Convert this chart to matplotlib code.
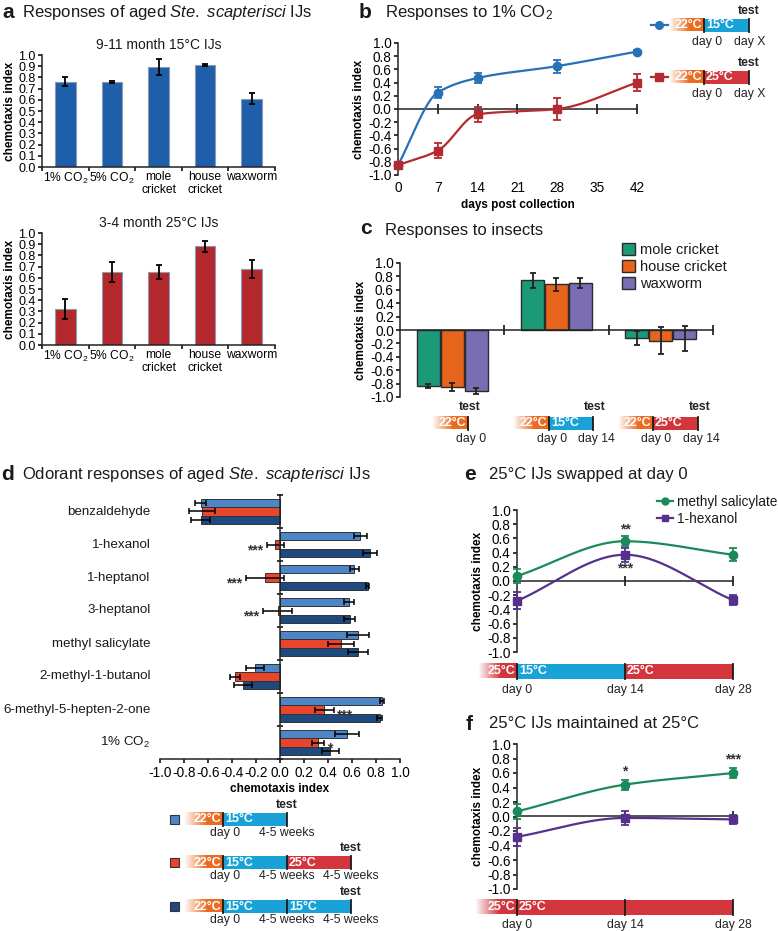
import numpy as np
import matplotlib
matplotlib.use('Agg')
import matplotlib.pyplot as plt
from matplotlib.patches import Rectangle
from matplotlib.colors import to_rgb
from matplotlib.lines import Line2D

plt.rcParams['font.family'] = ['Liberation Sans', 'DejaVu Sans']
plt.rcParams['mathtext.fontset'] = 'custom'
plt.rcParams['mathtext.rm'] = 'Liberation Sans'
plt.rcParams['mathtext.it'] = 'Liberation Sans:italic'
plt.rcParams['axes.unicode_minus'] = False
plt.rcParams['axes.linewidth'] = 1.1
plt.rcParams['axes.edgecolor'] = '#222222'
plt.rcParams['text.color'] = '#1a1a1a'

# ---- data ----
# a: aged IJs
a_labels = ['1% CO$_2$', '5% CO$_2$', 'mole\ncricket', 'house\ncricket', 'waxworm']
a15_vals = [0.76, 0.76, 0.89, 0.91, 0.61]
a15_err = [0.04, 0.01, 0.07, 0.01, 0.05]
a25_vals = [0.32, 0.65, 0.65, 0.88, 0.68]
a25_err = [0.09, 0.09, 0.06, 0.05, 0.08]

# b: responses to 1% CO2 over time
b_days = [0, 7, 14, 28, 42]
b15_vals = [-0.85, 0.25, 0.47, 0.65, 0.87]
b15_err = [0.03, 0.08, 0.08, 0.10, 0.02]
b25_vals = [-0.85, -0.63, -0.08, 0.00, 0.40]
b25_err = [0.03, 0.11, 0.11, 0.16, 0.13]

# c: responses to insects (rows = insect, cols = condition)
c_series = ['mole cricket', 'house cricket', 'waxworm']
c_vals = [[-0.83, 0.74, -0.12], [-0.85, 0.68, -0.16], [-0.91, 0.70, -0.13]]
c_err = [[0.03, 0.11, 0.10], [0.06, 0.10, 0.20], [0.04, 0.08, 0.19]]

# d: odorant responses
d_odorants = ['benzaldehyde', '1-hexanol', '1-heptanol', '3-heptanol', 'methyl salicylate',
              '2-methyl-1-butanol', '6-methyl-5-hepten-2-one', '1% CO$_2$']
d_15 = [-0.66, 0.67, 0.62, 0.575, 0.65, -0.21, 0.85, 0.56]
d_15err = [0.045, 0.055, 0.04, 0.045, 0.09, 0.075, 0.02, 0.10]
d_swap = [-0.65, -0.04, -0.125, -0.02, 0.51, -0.375, 0.37, 0.32]
d_swaperr = [0.11, 0.07, 0.16, 0.12, 0.11, 0.045, 0.08, 0.05]
d_15x2 = [-0.66, 0.75, 0.73, 0.58, 0.65, -0.31, 0.83, 0.42]
d_15x2err = [0.08, 0.055, 0.015, 0.045, 0.08, 0.075, 0.02, 0.07]
d_stars = ['', '***', '***', '***', '', '', '***', '*']

# e / f: methyl salicylate and 1-hexanol
ef_days = [0, 14, 28]
e_ms = [0.07, 0.56, 0.37]
e_ms_err = [0.10, 0.07, 0.09]
e_hx = [-0.28, 0.37, -0.27]
e_hx_err = [0.12, 0.10, 0.07]
f_ms = [0.07, 0.44, 0.60]
f_ms_err = [0.10, 0.07, 0.07]
f_hx = [-0.28, -0.02, -0.04]
f_hx_err = [0.12, 0.10, 0.06]

# colours
ORANGE, CYAN, TRED = '#ec6b1f', '#18a2d8', '#d2353b'
W, H = 778, 931

fig = plt.figure(figsize=(W / 100, H / 100), dpi=100)

ov = fig.add_axes([0, 0, 1, 1])
ov.axis('off')
ov.patch.set_alpha(0)


def px_axes(x0, y0, x1, y1):
    return fig.add_axes([x0 / W, 1 - y1 / H, (x1 - x0) / W, (y1 - y0) / H])


def pchip(x, y, n=300):
    # monotone cubic, used to draw the smoothed connecting lines
    x = np.asarray(x, float)
    y = np.asarray(y, float)
    h = np.diff(x)
    d = np.diff(y) / h
    m = np.zeros_like(y)
    for k in range(1, len(x) - 1):
        if d[k - 1] * d[k] > 0:
            w1 = 2 * h[k] + h[k - 1]
            w2 = h[k] + 2 * h[k - 1]
            m[k] = (w1 + w2) / (w1 / d[k - 1] + w2 / d[k])
    m[0] = d[0]
    m[-1] = d[-1]
    xs = np.linspace(x[0], x[-1], n)
    i = np.clip(np.searchsorted(x, xs) - 1, 0, len(x) - 2)
    t = (xs - x[i]) / h[i]
    ys = ((2 * t**3 - 3 * t**2 + 1) * y[i] + (t**3 - 2 * t**2 + t) * h[i] * m[i]
          + (-2 * t**3 + 3 * t**2) * y[i + 1] + (t**3 - t**2) * h[i] * m[i + 1])
    return xs, ys


def ci_yticks(ax, lo, hi, n):
    t = np.round(np.linspace(lo, hi, n), 1)
    ax.set_yticks(t)
    ax.set_yticklabels([f'{v + 0.0:.1f}' for v in t])
    ax.set_ylim(lo, hi)


def base_style(ax, fs=9.8):
    ax.spines['top'].set_visible(False)
    ax.spines['right'].set_visible(False)
    ax.tick_params(labelsize=fs, length=3, width=1.1, pad=1.5)
    ax.set_ylabel('chemotaxis index', fontweight='bold', fontsize=8.5, labelpad=2)


def timeline(edges, y, colors, temps, h=13, fs=9):
    x0, x1 = edges[0], edges[1]
    grad = np.zeros((1, 64, 4))
    grad[..., :3] = to_rgb(colors[0])
    grad[0, :, 3] = np.clip(np.linspace(0, 1.7, 64), 0, 1)
    ov.imshow(grad, extent=(x0, x1, y + h / 2, y - h / 2), aspect='auto', interpolation='bilinear')
    for a, b, c in zip(edges[1:-1], edges[2:], colors[1:]):
        ov.add_patch(Rectangle((a, y - h / 2), b - a, h, color=c, lw=0))
    for e in edges[1:]:
        ov.plot([e, e], [y - h / 2, y + h / 2], color='#1a1a1a', lw=1.3)
    for k, tx in enumerate(temps):
        if k == 0:
            ov.text(edges[1] - 2, y + 0.5, tx, color='white', fontsize=fs, fontweight='bold',
                    ha='right', va='center')
        else:
            ov.text(edges[k] + 2, y + 0.5, tx, color='white', fontsize=fs, fontweight='bold',
                    ha='left', va='center')


def label(x, y, s, **kw):
    ov.text(x, y, s, ha='center', va='center', fontsize=8.8, color='#222222', **kw)


def test_label(x, y):
    ov.text(x, y, 'test', ha='center', va='center', fontsize=8.8, fontweight='bold', color='#222222')


# ---- panel titles ----
ov.text(2, 12, 'a', fontsize=15, fontweight='bold', va='center')
ov.text(22, 12, r'Responses of aged $\mathit{Ste.\ scapterisci}$ IJs', fontsize=12, va='center')
ov.text(359, 12, 'b', fontsize=15, fontweight='bold', va='center')
ov.text(385, 12, 'Responses to 1% CO$_2$', fontsize=12, va='center')
ov.text(360, 229, 'c', fontsize=15, fontweight='bold', va='center')
ov.text(385, 230, 'Responses to insects', fontsize=12, va='center')
ov.text(1, 475, 'd', fontsize=15, fontweight='bold', va='center')
ov.text(22, 475, r'Odorant responses of aged $\mathit{Ste.\ scapterisci}$ IJs', fontsize=12, va='center')
ov.text(464, 475, 'e', fontsize=15, fontweight='bold', va='center')
ov.text(489, 475, '25°C IJs swapped at day 0', fontsize=12, va='center')
ov.text(466, 724, 'f', fontsize=15, fontweight='bold', va='center')
ov.text(489, 724, '25°C IJs maintained at 25°C', fontsize=12, va='center')

# ---- panel a ----
for (y0, y1), vals, errs, col, ttl in [((55, 167), a15_vals, a15_err, '#1f5ea8', '9-11 month 15°C IJs'),
                                      ((233, 345), a25_vals, a25_err, '#b3282d', '3-4 month 25°C IJs')]:
    ax = px_axes(42, y0, 275, y1)
    ax.bar(range(5), vals, 0.44, yerr=errs, color=col, edgecolor='#8a9bb0', lw=0.8,
           error_kw=dict(ecolor='black', capsize=2.5, elinewidth=1.3, capthick=1.3))
    base_style(ax, fs=9.0)
    ci_yticks(ax, 0, 1.0, 11)
    ax.set_xlim(-0.5, 4.5)
    ax.set_xticks(np.arange(-0.5, 5, 1))
    ax.set_xticklabels([])
    ax.set_xticks(range(5), minor=True)
    ax.set_xticklabels(a_labels, minor=True, fontsize=8.7, linespacing=1.1)
    ax.tick_params(axis='x', which='minor', length=0, pad=3)
    ax.set_title(ttl, fontsize=10, pad=4)

# ---- panel b ----
ax = px_axes(398, 43, 637, 175)
for vals, errs, col, mk in [(b15_vals, b15_err, '#2671b8', 'o'), (b25_vals, b25_err, '#b52a30', 's')]:
    xs, ys = pchip(b_days, vals)
    ax.plot(xs, ys, color=col, lw=1.6, clip_on=False, zorder=3)
    ax.errorbar(b_days, vals, yerr=errs, fmt='none', ecolor=col, elinewidth=1.3, capsize=3,
                capthick=1.3, clip_on=False, zorder=3)
    ax.plot(b_days, vals, mk, color=col, ms=6, clip_on=False, zorder=4)
base_style(ax)
ci_yticks(ax, -1.0, 1.0, 11)
ax.set_xlim(0, 42)
ax.set_xticks(range(0, 43, 7))
ax.spines['bottom'].set_visible(False)
ax.tick_params(axis='x', length=0, pad=4)
ax.set_xlabel('days post collection', fontweight='bold', fontsize=8.5, labelpad=3)
sec = ax.secondary_xaxis(0.5)
sec.set_xticks(range(7, 43, 7))
sec.tick_params(direction='inout', length=7, width=1.1, labelbottom=False, labeltop=False)

# legend schematics for b
for y, col, c2, mk in [(25, '#2671b8', CYAN, 'o'), (77, '#b52a30', TRED, 's')]:
    ov.plot([651, 668], [y, y], color=col, lw=1.6)
    ov.plot([659], [y], mk, color=col, ms=5.5)
    timeline([669, 704, 749], y, [ORANGE, c2], ['22°C', '15°C' if c2 == CYAN else '25°C'])
    test_label(749, y - 14)
    label(707, y + 17, 'day 0')
    label(750, y + 17, 'day X')

# ---- panel c ----
ax = px_axes(400, 263, 713, 397)
c_cols = ['#1c9a78', '#e7641d', '#7a6db3']
for j in range(3):
    ax.bar(np.arange(3) + (j - 1) * 0.23, c_vals[j], 0.22, yerr=c_err[j], color=c_cols[j],
           edgecolor='#2b2b2b', lw=1, label=c_series[j],
           error_kw=dict(ecolor='#222222', capsize=2.5, elinewidth=1.3, capthick=1.3))
base_style(ax)
ci_yticks(ax, -1.0, 1.0, 11)
ax.set_xlim(-0.5, 2.5)
ax.spines['bottom'].set_position(('data', 0))
ax.set_xticks([0.5, 1.5, 2.5])
ax.set_xticklabels([])
ax.tick_params(axis='x', direction='inout', length=7)
ax.legend(loc='upper left', bbox_to_anchor=(622 / W, 1 - 243 / H), bbox_transform=fig.transFigure,
          frameon=False, fontsize=10.5, handlelength=0.9, handleheight=0.9, handletextpad=0.35,
          labelspacing=0.2, borderpad=0, borderaxespad=0)

timeline([432, 468], 423, [ORANGE], ['22°C'])
test_label(470, 407)
label(471, 439, 'day 0')
for edges, c2, t2 in [([513, 549, 593], CYAN, '15°C'), ([618, 653, 698], TRED, '25°C')]:
    timeline(edges, 423, [ORANGE, c2], ['22°C', t2])
    test_label(edges[2] + 2, 407)
    label(edges[1] + 3, 439, 'day 0')
    label(edges[2] + 3, 439, 'day 14')

# ---- panel d ----
ax = px_axes(160, 495, 400, 759)
d_cols = ['#4d86c6', '#e8452c', '#1f4a80']
ypos = np.arange(len(d_odorants)) + 0.5
for j, (vals, errs) in enumerate([(d_15, d_15err), (d_swap, d_swaperr), (d_15x2, d_15x2err)]):
    ax.barh(ypos + (j - 1) * 0.25, vals, 0.25, xerr=errs, color=d_cols[j], edgecolor='#333333', lw=0.7,
            error_kw=dict(ecolor='black', capsize=2, elinewidth=1.1, capthick=1.1))
ax.set_xlim(-1.0, 1.0)
ax.set_ylim(len(d_odorants), 0)
ax.spines['top'].set_visible(False)
ax.spines['right'].set_visible(False)
ax.spines['left'].set_position(('data', 0))
ax.set_yticks(range(len(d_odorants) + 1))
ax.set_yticklabels([])
ax.tick_params(axis='y', direction='inout', length=5, width=1.1)
xt = np.round(np.linspace(-1, 1, 11), 1)
ax.set_xticks(xt)
ax.set_xticklabels([f'{v + 0.0:.1f}' for v in xt])
ax.tick_params(axis='x', labelsize=9.8, length=3, width=1.1, pad=2)
ax.set_xlabel('chemotaxis index', fontweight='bold', fontsize=8.5, labelpad=2)
for i, name in enumerate(d_odorants):
    ax.text(-1.08, ypos[i], name, ha='right', va='center', fontsize=9.6, clip_on=False)
    s = d_stars[i]
    if s:
        v, e = d_swap[i], d_swaperr[i]
        if v < 0:
            ax.text(v - e - 0.03, ypos[i] + 0.17, s, ha='right', va='center', fontsize=10,
                    fontweight='bold', color='#333333')
        else:
            ax.text(v + e + 0.02, ypos[i] + 0.17, s, ha='left', va='center', fontsize=10,
                    fontweight='bold', color='#333333')

for y, col, cols, temps in [(819, d_cols[0], [ORANGE, CYAN], ['22°C', '15°C']),
                            (862, d_cols[1], [ORANGE, CYAN, TRED], ['22°C', '15°C', '25°C']),
                            (906, d_cols[2], [ORANGE, CYAN, CYAN], ['22°C', '15°C', '15°C'])]:
    ov.add_patch(Rectangle((170.5, y - 4.5), 9, 9, facecolor=col, edgecolor='#333333', lw=0.8))
    edges = [184, 223, 287, 351][:len(cols) + 1]
    timeline(edges, y, cols, temps)
    test_label(edges[-1], y - 14)
    label(225, y + 14, 'day 0')
    for e in edges[2:]:
        label(e, y + 14, '4-5 weeks')

# ---- panels e, f ----
ef_cols = ['#1b8a5a', '#55308d']
for (y0, y1), ms, ms_e, hx, hx_e, stars in [
        ((510, 652), e_ms, e_ms_err, e_hx, e_hx_err, [(14, 0.72, '**'), (14, 0.17, '***')]),
        ((744, 889), f_ms, f_ms_err, f_hx, f_hx_err, [(14, 0.62, '*'), (28, 0.78, '***')])]:
    ax = px_axes(517, y0, 733, y1)
    for vals, errs, col, mk in [(ms, ms_e, ef_cols[0], 'o'), (hx, hx_e, ef_cols[1], 's')]:
        xs, ys = pchip(ef_days, vals)
        ax.plot(xs, ys, color=col, lw=1.6, zorder=3)
        ax.errorbar(ef_days, vals, yerr=errs, fmt='none', ecolor=col, elinewidth=1.3, capsize=3,
                    capthick=1.3, clip_on=False, zorder=3)
        ax.plot(ef_days, vals, mk, color=col, ms=6, clip_on=False, zorder=4)
    base_style(ax)
    ci_yticks(ax, -1.0, 1.0, 11)
    ax.set_xlim(0, 28)
    ax.spines['bottom'].set_visible(False)
    ax.set_xticks([])
    sec = ax.secondary_xaxis(0.5)
    sec.set_xticks([14, 28])
    sec.tick_params(direction='inout', length=7, width=1.1, labelbottom=False, labeltop=False)
    for x, y, s in stars:
        ax.text(x, y, s, ha='center', va='center', fontsize=10, fontweight='bold', color='#333333')
    if y0 == 510:
        handles = [Line2D([], [], color=ef_cols[0], marker='o', ms=5, lw=1.6),
                   Line2D([], [], color=ef_cols[1], marker='s', ms=5, lw=1.6)]
        ax.legend(handles, ['methyl salicylate', '1-hexanol'], loc='upper left',
                  bbox_to_anchor=(657 / W, 1 - 495 / H), bbox_transform=fig.transFigure,
                  frameon=False, fontsize=9.8, handlelength=1.2, handletextpad=0.3,
                  labelspacing=0.2, borderpad=0, borderaxespad=0)

timeline([478, 517, 625, 733], 671, [TRED, CYAN, TRED], ['25°C', '15°C', '25°C'], h=15)
for x, s in [(517, 'day 0'), (625, 'day 14'), (733, 'day 28')]:
    label(x, 690, s)
timeline([475, 517, 625, 733], 907, [TRED, TRED, TRED], ['25°C', '25°C', ''], h=15)
for x, s in [(517, 'day 0'), (625, 'day 14'), (733, 'day 28')]:
    label(x, 925, s)

ov.set_xlim(0, W)
ov.set_ylim(H, 0)

fig.savefig('out.png', dpi=100)
